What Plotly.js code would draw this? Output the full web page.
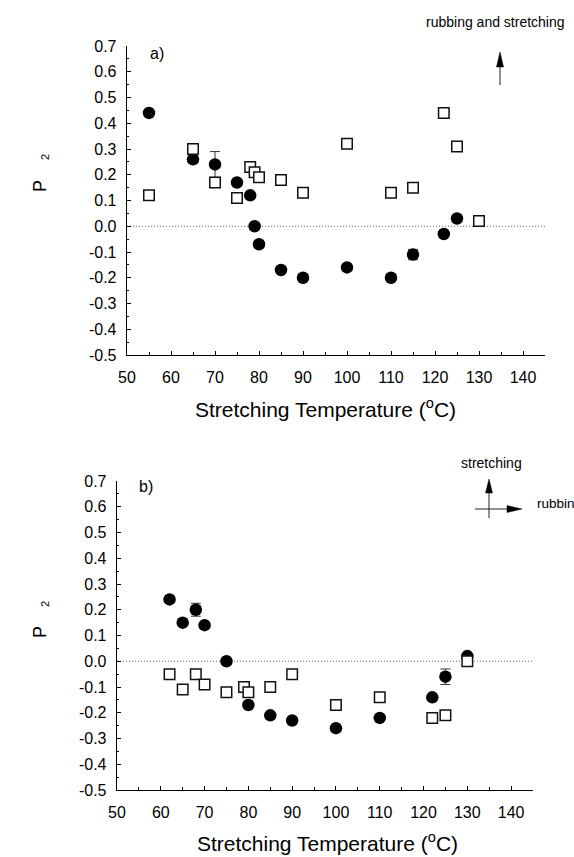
<!DOCTYPE html>
<html>
<head>
<meta charset="utf-8">
<script src="https://cdn.plot.ly/plotly-3.0.1.min.js"></script>
<style>
  html, body { margin: 0; padding: 0; background: #fff; }
  #chart { width: 574px; height: 857px; }
</style>
</head>
<body>
<div id="chart"></div>
<script>
// Panel a) rubbing and stretching
const aCircleT   = [55, 65, 70, 75, 78, 79, 80, 85, 90, 100, 110, 115, 122, 125];
const aCircleP   = [0.44, 0.26, 0.24, 0.17, 0.12, 0.00, -0.07, -0.17, -0.20, -0.16, -0.20, -0.11, -0.03, 0.03];
const aCircleErr = [0, 0, 0.05, 0, 0, 0, 0, 0, 0, 0, 0, 0.02, 0, 0];
const aSquareT   = [55, 65, 70, 75, 78, 79, 80, 85, 90, 100, 110, 115, 122, 125, 130];
const aSquareP   = [0.12, 0.30, 0.17, 0.11, 0.23, 0.21, 0.19, 0.18, 0.13, 0.32, 0.13, 0.15, 0.44, 0.31, 0.02];

// Panel b) stretching perpendicular to rubbing
const bCircleT   = [62, 65, 68, 70, 75, 80, 85, 90, 100, 110, 122, 125, 130];
const bCircleP   = [0.24, 0.15, 0.20, 0.14, 0.00, -0.17, -0.21, -0.23, -0.26, -0.22, -0.14, -0.06, 0.02];
const bCircleErr = [0, 0, 0.025, 0, 0, 0, 0, 0, 0, 0, 0, 0.03, 0];
const bSquareT   = [62, 65, 68, 70, 75, 79, 80, 85, 90, 100, 110, 122, 125, 130];
const bSquareP   = [-0.05, -0.11, -0.05, -0.09, -0.12, -0.10, -0.12, -0.10, -0.05, -0.17, -0.14, -0.22, -0.21, 0.00];

// Tick labels
const xTickVals = [50, 60, 70, 80, 90, 100, 110, 120, 130, 140];
const xTickText = ['50', '60', '70', '80', '90', '100', '110', '120', '130', '140'];
const yTickVals = [-0.5, -0.4, -0.3, -0.2, -0.1, 0, 0.1, 0.2, 0.3, 0.4, 0.5, 0.6, 0.7];
const yTickText = ['-0.5', '-0.4', '-0.3', '-0.2', '-0.1', '0.0', '0.1', '0.2', '0.3', '0.4', '0.5', '0.6', '0.7'];

const W = 574, H = 857;
const FONT = 'Arial, "Liberation Sans", sans-serif';
// pixel -> paper helpers for the decorations
const px = v => v / W;
const py = v => 1 - v / H;

function circles(x, y, err, xa, ya) {
  return {
    type: 'scatter', mode: 'markers', x: x, y: y, xaxis: xa, yaxis: ya,
    marker: { symbol: 'circle', size: 12.5, color: '#000', line: { width: 0 } },
    error_y: { type: 'data', array: err, visible: true, color: '#333', thickness: 1, width: 5 },
    cliponaxis: false, showlegend: false, hoverinfo: 'x+y'
  };
}
function squares(x, y, xa, ya) {
  return {
    type: 'scatter', mode: 'markers', x: x, y: y, xaxis: xa, yaxis: ya,
    marker: { symbol: 'square', size: 10.5, color: '#fff', line: { width: 1.5, color: '#111' } },
    cliponaxis: false, showlegend: false, hoverinfo: 'x+y'
  };
}

const data = [
  circles(aCircleT, aCircleP, aCircleErr, 'x', 'y'),
  squares(aSquareT, aSquareP, 'x', 'y'),
  circles(bCircleT, bCircleP, bCircleErr, 'x2', 'y2'),
  squares(bSquareT, bSquareP, 'x2', 'y2')
];

const xCommon = {
  range: [50, 145], tickmode: 'array', tickvals: xTickVals, ticktext: xTickText,
  showline: true, linecolor: '#000', linewidth: 1.3, showgrid: false, zeroline: false,
  ticks: 'inside', ticklen: 4, tickwidth: 1, tickcolor: '#000',
  minor: { ticks: 'inside', ticklen: 3, tickwidth: 1, tickcolor: '#000', tickmode: 'linear', tick0: 55, dtick: 10, showgrid: false },
  tickfont: { family: FONT, size: 16, color: '#000' }, ticklabelstandoff: 7, fixedrange: true
};
const yCommon = {
  range: [-0.5, 0.7], tickmode: 'array', tickvals: yTickVals, ticktext: yTickText,
  showline: true, linecolor: '#000', linewidth: 1.3, showgrid: false, zeroline: false,
  ticks: 'inside', ticklen: 4, tickwidth: 1, tickcolor: '#000',
  minor: { ticks: 'inside', ticklen: 2, tickwidth: 1, tickcolor: '#000', tickmode: 'linear', tick0: 0.05, dtick: 0.1, showgrid: false },
  tickfont: { family: FONT, size: 16, color: '#000' }, ticklabelstandoff: 6, fixedrange: true
};

function zeroLine(xd, yr) {
  return { type: 'line', xref: xd, yref: yr, x0: 0, x1: 1, y0: 0, y1: 0,
           line: { color: '#666', width: 1, dash: '1px,2px' }, layer: 'below' };
}
function seg(x0, y0, x1, y1) {
  return { type: 'line', xref: 'paper', yref: 'paper', x0: px(x0), y0: py(y0), x1: px(x1), y1: py(y1),
           line: { color: '#222', width: 1 } };
}
function head(tx, ty, ax, ay, bx, by) {
  return { type: 'path', xref: 'paper', yref: 'paper',
           path: 'M' + px(tx) + ',' + py(ty) + ' L' + px(ax) + ',' + py(ay) + ' L' + px(bx) + ',' + py(by) + ' Z',
           fillcolor: '#000', line: { color: '#000', width: 0.5 } };
}
function label(text, x, y, size, opts) {
  return Object.assign({ text: text, xref: 'paper', yref: 'paper', x: px(x), y: py(y),
    showarrow: false, xanchor: 'center', yanchor: 'middle',
    font: { family: FONT, size: size, color: '#000' } }, opts || {});
}

const layout = {
  width: W, height: H, margin: { l: 0, r: 0, t: 0, b: 0 },
  paper_bgcolor: '#fff', plot_bgcolor: 'rgba(0,0,0,0)', showlegend: false,
  xaxis:  Object.assign({}, xCommon, { domain: [px(127), px(545)], anchor: 'y' }),
  yaxis:  Object.assign({}, yCommon, { domain: [py(355), py(46)], anchor: 'x' }),
  xaxis2: Object.assign({}, xCommon, { domain: [px(117), px(533)], anchor: 'y2' }),
  yaxis2: Object.assign({}, yCommon, { domain: [py(790), py(481)], anchor: 'x2' }),
  shapes: [
    zeroLine('x domain', 'y'),
    zeroLine('x2 domain', 'y2'),
    // upward arrow, panel a
    seg(500, 85, 500, 64),
    head(500, 52, 496.5, 67, 503.5, 67),
    // stretching / rubbing cross, panel b
    seg(489, 518, 489, 490),
    head(489, 479, 485.5, 493, 492.5, 493),
    seg(475, 509, 509, 509),
    head(522, 509, 507, 505.5, 507, 512.5)
  ],
  annotations: [
    label('a)', 157, 53, 16),
    label('b)', 146, 487, 16),
    label('rubbing and stretching', 495, 22, 14),
    label('stretching', 491, 463, 14),
    label('rubbin', 535, 504, 13.5, { xanchor: 'left' }),
    label('P', 40, 186, 18, { textangle: -90 }),
    label('2', 45, 157, 11, { textangle: -90 }),
    label('P', 40, 632, 18, { textangle: -90 }),
    label('2', 45, 604, 11, { textangle: -90 }),
    label('Stretching Temperature (<sup>o</sup>C)', 193, 408, 21, { xanchor: 'left' }),
    label('Stretching Temperature (<sup>o</sup>C)', 195, 842, 21, { xanchor: 'left' })
  ]
};

Plotly.newPlot('chart', data, layout, { staticPlot: true, displayModeBar: false });
</script>
</body>
</html>
